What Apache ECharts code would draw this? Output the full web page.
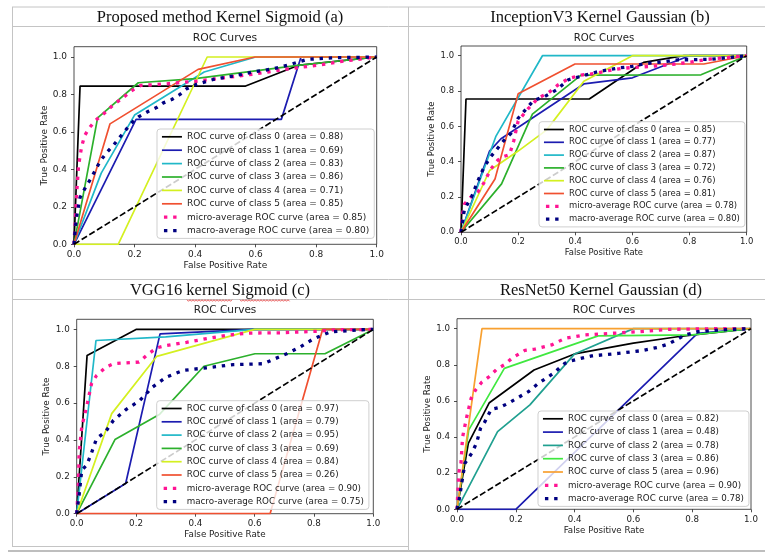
<!DOCTYPE html>
<html><head><meta charset="utf-8">
<script src="https://cdn.jsdelivr.net/npm/echarts@6/dist/echarts.min.js"></script>
<style>html,body{margin:0;padding:0;background:#fff}#c{width:765px;height:552px}</style>
</head><body><div id="c"></div><script>
// ---------------- DATA ----------------
const tickValues = [0, 0.2, 0.4, 0.6, 0.8, 1.0];
const diagonal = [[0, 0], [1, 1]];

const headers = ['Proposed method Kernel Sigmoid (a)', 'InceptionV3 Kernel Gaussian (b)', 'VGG16 kernel Sigmoid (c)', 'ResNet50 Kernel Gaussian (d)'];
const plotTitle = 'ROC Curves';
const xName = 'False Positive Rate';
const yName = 'True Positive Rate';

// Panel (a)
const A_names = ['ROC curve of class 0 (area = 0.88)', 'ROC curve of class 1 (area = 0.69)', 'ROC curve of class 2 (area = 0.83)', 'ROC curve of class 3 (area = 0.86)', 'ROC curve of class 4 (area = 0.71)', 'ROC curve of class 5 (area = 0.85)', 'micro-average ROC curve (area = 0.85)', 'macro-average ROC curve (area = 0.80)'];
const A0 = [[0,0],[0.02,0.845],[0.567,0.845],[0.74,0.955],[1,1]];
const A1 = [[0,0],[0.205,0.667],[0.685,0.667],[0.75,1],[1,1]];
const A2 = [[0,0],[0.09,0.38],[0.2,0.69],[0.43,0.92],[0.6,1],[1,1]];
const A3 = [[0,0],[0.078,0.675],[0.2125,0.8625],[0.4,0.885],[0.74,0.955],[1,1]];
const A4 = [[0,0],[0.146,0],[0.44,1],[1,1]];
const A5 = [[0,0],[0.119,0.643],[0.41,0.934],[0.598,1],[1,1]];
const A_micro = [[0,0],[0.005,0.15],[0.01,0.3],[0.015,0.42],[0.025,0.52],[0.035,0.58],[0.05,0.62],[0.07,0.66],[0.1,0.7],[0.13,0.745],[0.16,0.78],[0.19,0.82],[0.22,0.848],[0.3,0.856],[0.4,0.87],[0.5,0.89],[0.6,0.91],[0.7,0.935],[0.8,0.955],[0.9,0.98],[1,1]];
const A_macro = [[0,0],[0.005,0.1],[0.01,0.16],[0.02,0.25],[0.04,0.31],[0.058,0.357],[0.086,0.443],[0.108,0.49],[0.13,0.528],[0.154,0.577],[0.19,0.648],[0.2125,0.68],[0.246,0.71],[0.273,0.73],[0.295,0.755],[0.323,0.773],[0.35,0.8],[0.372,0.83],[0.405,0.854],[0.46,0.88],[0.526,0.898],[0.592,0.92],[0.659,0.937],[0.714,0.96],[0.769,0.987],[0.857,0.996],[1,1]];

// Panel (b)
const B_names = ['ROC curve of class 0 (area = 0.85)', 'ROC curve of class 1 (area = 0.77)', 'ROC curve of class 2 (area = 0.87)', 'ROC curve of class 3 (area = 0.72)', 'ROC curve of class 4 (area = 0.76)', 'ROC curve of class 5 (area = 0.81)', 'micro-average ROC curve (area = 0.78)', 'macro-average ROC curve (area = 0.80)'];
const B0 = [[0,0],[0.0175,0.755],[0.449,0.755],[0.639,0.962],[0.78,1],[1,1]];
const B1 = [[0,0],[0.1,0.46],[0.14,0.53],[0.43,0.84],[0.6,0.875],[0.8,1],[1,1]];
const B2 = [[0,0],[0.1225,0.545],[0.285,1],[1,1]];
const B3 = [[0,0],[0.142,0.274],[0.25,0.669],[0.42,0.89],[0.84,0.892],[1,1]];
const B4 = [[0,0],[0.1,0.35],[0.2,0.46],[0.3,0.58],[0.43,0.855],[0.6,1],[1,1]];
const B5 = [[0,0],[0.119,0.302],[0.2,0.784],[0.399,0.953],[0.85,0.953],[1,1]];
const B_micro = [[0,0],[0.005,0.1],[0.012,0.16],[0.035,0.2],[0.06,0.23],[0.08,0.28],[0.105,0.36],[0.13,0.41],[0.15,0.43],[0.17,0.44],[0.185,0.52],[0.2,0.63],[0.235,0.7],[0.27,0.76],[0.306,0.79],[0.34,0.835],[0.376,0.87],[0.42,0.89],[0.47,0.9],[0.53,0.92],[0.574,0.93],[0.667,0.94],[0.737,0.95],[0.807,0.965],[0.866,0.98],[1,1]];
const B_macro = [[0,0],[0.005,0.06],[0.012,0.13],[0.037,0.2],[0.058,0.287],[0.076,0.353],[0.1,0.42],[0.119,0.457],[0.15,0.52],[0.175,0.56],[0.2,0.646],[0.253,0.745],[0.294,0.77],[0.335,0.807],[0.376,0.864],[0.48,0.91],[0.55,0.93],[0.6,0.94],[0.644,0.955],[0.72,0.968],[0.76,0.977],[0.807,0.977],[0.877,0.98],[1,1]];

// Panel (c)
const C_names = ['ROC curve of class 0 (area = 0.97)', 'ROC curve of class 1 (area = 0.79)', 'ROC curve of class 2 (area = 0.95)', 'ROC curve of class 3 (area = 0.69)', 'ROC curve of class 4 (area = 0.84)', 'ROC curve of class 5 (area = 0.26)', 'micro-average ROC curve (area = 0.90)', 'macro-average ROC curve (area = 0.75)'];
const C0 = [[0,0],[0.035,0.859],[0.2,1],[1,1]];
const C1 = [[0,0],[0.165,0.164],[0.281,0.976],[0.6,1],[1,1]];
const C2 = [[0,0],[0.065,0.94],[0.3,0.96],[0.6,1],[1,1]];
const C3 = [[0,0],[0.129,0.4025],[0.28,0.54],[0.429,0.8],[0.601,0.868],[0.837,0.868],[1,1]];
const C4 = [[0,0],[0.118,0.543],[0.27,0.854],[0.6,1],[1,1]];
const C5 = [[0,0],[0.652,0],[0.829,1],[1,1]];
const C_micro = [[0,0],[0.003,0.08],[0.006,0.164],[0.008,0.33],[0.017,0.47],[0.036,0.6],[0.05,0.706],[0.067,0.75],[0.099,0.796],[0.124,0.814],[0.157,0.818],[0.21,0.823],[0.236,0.86],[0.27,0.9],[0.303,0.913],[0.37,0.93],[0.438,0.95],[0.505,0.968],[0.573,0.98],[0.685,0.982],[0.81,0.99],[0.865,0.998],[1,1]];
const C_macro = [[0,0],[0.008,0.1],[0.017,0.236],[0.034,0.264],[0.05,0.33],[0.067,0.408],[0.097,0.444],[0.124,0.507],[0.166,0.565],[0.211,0.612],[0.233,0.648],[0.256,0.688],[0.303,0.742],[0.36,0.778],[0.438,0.792],[0.528,0.809],[0.629,0.814],[0.708,0.868],[0.753,0.904],[0.798,0.949],[0.854,0.986],[0.955,0.998],[1,1]];

// Panel (d)
const D_names = ['ROC curve of class 0 (area = 0.82)', 'ROC curve of class 1 (area = 0.48)', 'ROC curve of class 2 (area = 0.78)', 'ROC curve of class 3 (area = 0.86)', 'ROC curve of class 5 (area = 0.96)', 'micro-average ROC curve (area = 0.90)', 'macro-average ROC curve (area = 0.78)'];
const D0 = [[0,0],[0.0385,0.365],[0.11,0.59],[0.262,0.771],[0.4,0.86],[0.6,0.92],[0.75,0.955],[1,1]];
const D1 = [[0,0],[0.2,0],[0.818,0.974],[1,1]];
const D2 = [[0,0],[0.138,0.43],[0.248,0.578],[0.4,0.86],[0.6,1],[1,1]];
const D3 = [[0,0],[0.04,0.44],[0.161,0.78],[0.48,0.96],[0.8,0.965],[1,1]];
const D5 = [[0,0],[0.085,1],[1,1]];
const D_micro = [[0,0],[0.003,0.1],[0.007,0.21],[0.0136,0.258],[0.019,0.4],[0.033,0.51],[0.048,0.614],[0.063,0.66],[0.084,0.703],[0.109,0.734],[0.135,0.775],[0.161,0.8],[0.19,0.84],[0.231,0.88],[0.265,0.887],[0.322,0.91],[0.367,0.946],[0.435,0.965],[0.526,0.974],[0.617,0.983],[0.719,0.996],[0.889,1],[1,1]];
const D_macro = [[0,0],[0.007,0.05],[0.016,0.144],[0.027,0.255],[0.05,0.31],[0.067,0.369],[0.08,0.448],[0.095,0.485],[0.116,0.553],[0.144,0.563],[0.175,0.587],[0.203,0.614],[0.243,0.651],[0.277,0.697],[0.328,0.753],[0.367,0.808],[0.39,0.823],[0.458,0.849],[0.549,0.863],[0.628,0.878],[0.685,0.897],[0.719,0.915],[0.776,0.965],[0.82,0.983],[0.9,0.993],[1,1]];

// ---------------- STYLE / LAYOUT ----------------
const FONT = 'DejaVu Sans';
const TXT = '#222';
const MICRO = '#ff1493', MACRO = '#000080';
const COLS6 = ['#000000', '#1c1cb0', '#20b8c8', '#2cb02c', '#d4f020', '#f05030'];
const panels = [
  { names: A_names, curves: [A0, A1, A2, A3, A4, A5], micro: A_micro, macro: A_macro, colors: COLS6,
    grid: { left: 74, top: 46.7, width: 302.7, height: 197.6 }, fs: 9.0, pitch: 13.4,
    legend: { left: 157, top: 129 }, header: [220, 18], title: [225, 38.5] },
  { names: B_names, curves: [B0, B1, B2, B3, B4, B5], micro: B_micro, macro: B_macro, colors: COLS6,
    grid: { left: 461, top: 46, width: 285.7, height: 186.3 }, fs: 8.45, pitch: 12.8,
    legend: { left: 539, top: 121.7 }, header: [600, 18], title: [604, 38.5] },
  { names: C_names, curves: [C0, C1, C2, C3, C4, C5], micro: C_micro, macro: C_macro, colors: COLS6,
    grid: { left: 76.7, top: 319.3, width: 296.6, height: 194.4 }, fs: 8.75, pitch: 13.3,
    legend: { left: 156.7, top: 400.7 }, header: [220, 290.7], title: [225, 310.7] },
  { names: D_names, curves: [D0, D1, D2, D3, D5], micro: D_micro, macro: D_macro,
    colors: ['#000000', '#1c1cb0', '#20a090', '#40e840', '#f8a030'],
    grid: { left: 457, top: 318.7, width: 294, height: 190.6 }, fs: 8.7, pitch: 13.3,
    legend: { left: 538, top: 411 }, header: [601, 290.7], title: [604, 310.7] }
];

const LW = 1.7;
const DOT = { width: 3.3, type: [3.4, 5.8] };

const grids = [], xAxes = [], yAxes = [], series = [], legends = [], graphics = [];

panels.forEach((p, i) => {
  grids.push(Object.assign({ show: true, borderColor: '#222', borderWidth: 0.8, backgroundColor: 'transparent', containLabel: false }, p.grid));
  const axisCommon = {
    gridIndex: i, type: 'value', min: 0, interval: 0.2,
    nameLocation: 'middle',
    nameTextStyle: { fontSize: p.fs, color: TXT, fontFamily: FONT },
    axisLine: { show: false },
    axisTick: { show: true, length: 3, customValues: tickValues, lineStyle: { color: '#222', width: 0.8 } },
    splitLine: { show: false },
  };
  xAxes.push(Object.assign({}, axisCommon, {
    max: 1, name: xName, nameGap: 17,
    axisLabel: { customValues: tickValues, fontSize: p.fs, color: TXT, fontFamily: FONT, margin: 5.5, formatter: v => v.toFixed(1) }
  }));
  yAxes.push(Object.assign({}, axisCommon, {
    max: 1.055, name: yName, nameGap: 25,
    axisLabel: { customValues: tickValues, fontSize: p.fs, color: TXT, fontFamily: FONT, margin: 7, formatter: v => v.toFixed(1) }
  }));

  const legendData = [];
  p.curves.forEach((d, k) => {
    const c = p.colors[k];
    series.push({ type: 'line', name: p.names[k], data: d, xAxisIndex: i, yAxisIndex: i,
      symbol: 'none', showSymbol: false, silent: true, animation: false, clip: true,
      lineStyle: { color: c, width: LW, type: 'solid' }, itemStyle: { color: c } });
    legendData.push({ name: p.names[k], itemStyle: { opacity: 0 }, lineStyle: { color: c, width: LW, type: 'solid' } });
  });
  const nC = p.curves.length;
  [[p.micro, MICRO, p.names[nC]], [p.macro, MACRO, p.names[nC + 1]]].forEach(([d, c, nm]) => {
    series.push({ type: 'line', name: nm, data: d, xAxisIndex: i, yAxisIndex: i,
      symbol: 'none', showSymbol: false, silent: true, animation: false, clip: true,
      lineStyle: { color: c, width: DOT.width, type: DOT.type }, itemStyle: { color: c } });
    legendData.push({ name: nm, itemStyle: { opacity: 0 }, lineStyle: { color: c, width: DOT.width, type: DOT.type, dashOffset: -2 } });
  });
  series.push({ type: 'line', name: 'diag' + i, data: diagonal, xAxisIndex: i, yAxisIndex: i,
    symbol: 'none', showSymbol: false, silent: true, animation: false,
    lineStyle: { color: '#000', width: LW, type: [6.3, 2.7] } });

  legends.push({
    left: p.legend.left, top: p.legend.top, orient: 'vertical', selectedMode: false,
    itemWidth: 20, itemHeight: 9, itemGap: p.pitch - 9,
    padding: [3.3, 5, 3.3, 3.3],
    backgroundColor: 'rgba(255,255,255,0.8)', borderColor: '#cfcfcf', borderWidth: 1, borderRadius: 3,
    textStyle: { fontSize: p.fs, color: TXT, fontFamily: FONT, lineHeight: 9 },
    data: legendData
  });

  graphics.push({ type: 'text', x: p.header[0], y: p.header[1], silent: true,
    style: { text: headers[i], fontFamily: 'Liberation Serif', fontSize: 16.5, fill: '#111', textAlign: 'center', textVerticalAlign: 'middle' } });
  graphics.push({ type: 'text', x: p.title[0], y: p.title[1], silent: true,
    style: { text: plotTitle, fontFamily: FONT, fontSize: p.fs * 1.2, fill: TXT, textAlign: 'center', textVerticalAlign: 'middle' } });
});

// table lines
const LC = '#c4c4c4';
function hline(y, x1, x2, c, w) { graphics.push({ type: 'line', silent: true, shape: { x1, y1: y, x2, y2: y }, style: { stroke: c || LC, lineWidth: w || 1 } }); }
function vline(x, y1, y2, c, w) { graphics.push({ type: 'line', silent: true, shape: { x1: x, y1, x2: x, y2 }, style: { stroke: c || LC, lineWidth: w || 1 } }); }
hline(7, 12, 765); hline(26.5, 12, 765); hline(279.5, 12, 765); hline(299.5, 12, 765);
hline(546.5, 12, 408); hline(551, 8, 765, '#a8a8a8', 1.5);
vline(12.5, 7, 547); vline(408.5, 7, 551);

// spell-check wavy underline under "kernel" and "Sigmoid"
function wavy(x1, x2, y) {
  const pts = []; let up = true;
  for (let x = x1; x <= x2; x += 1.5) { pts.push([x, up ? y - 0.8 : y + 0.8]); up = !up; }
  graphics.push({ type: 'polyline', silent: true, shape: { points: pts }, style: { stroke: '#e03030', lineWidth: 0.8, fill: null } });
}
wavy(187, 233, 300.5); wavy(240, 290, 300.5);

const chart = echarts.init(document.getElementById('c'), null, { renderer: 'canvas' });
chart.setOption({
  animation: false,
  backgroundColor: '#fff',
  grid: grids, xAxis: xAxes, yAxis: yAxes, series, legend: legends,
  graphic: graphics
});
</script></body></html>
